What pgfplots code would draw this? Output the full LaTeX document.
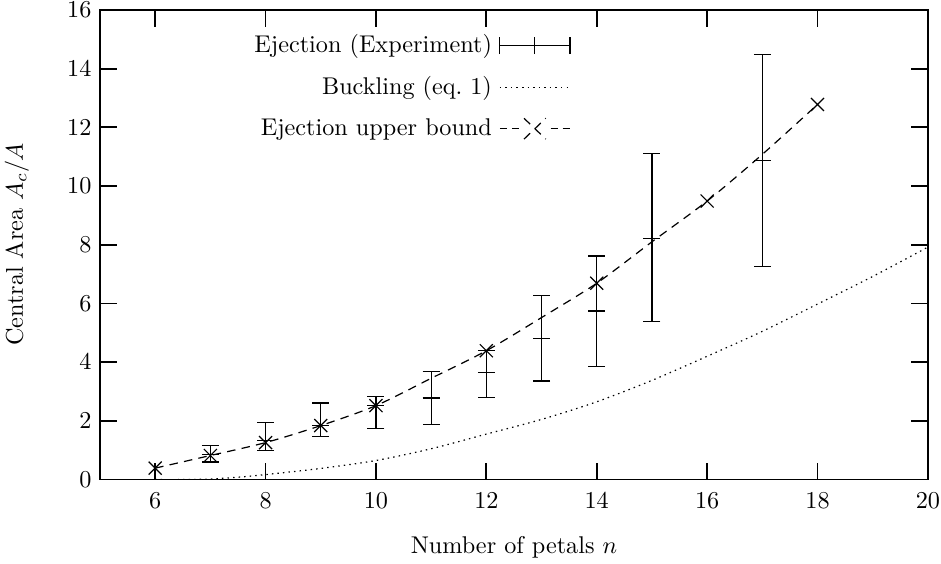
\documentclass[border=0pt]{standalone}
\usepackage{pgfplots}
\usetikzlibrary{calc}
\pgfplotsset{compat=1.18}
\pgfplotstableread{
x y ep em
7 0.85 0.30 0.25
8 1.33 0.62 0.34
9 1.84 0.77 0.38
10 2.52 0.30 0.77
11 2.78 0.89 0.90
12 3.64 0.75 0.85
13 4.81 1.45 1.45
14 5.74 1.88 1.90
15 8.22 2.89 2.84
17 10.87 3.61 3.61
}\experiment
\pgfplotstableread{
x y
6 0.39
7 0.82
8 1.26
9 1.84
10 2.52
11 3.45
12 4.39
13 5.52
14 6.69
15 8.10
16 9.49
17 11.08
18 12.78
}\upper
\pgfplotstableread{
x y
6 0
6.5 0
7 0.02
7.5 0.08
8 0.17
9 0.38
10 0.65
11 1.05
12 1.55
13 2.05
14 2.65
15 3.38
16 4.20
17 5.05
18 5.98
19 6.92
20 7.92
}\buckling
\begin{document}
\begin{tikzpicture}
\begin{axis}[
  name=main,
  scale only axis, width=342pt, height=194pt,
  xmin=5, xmax=20, ymin=0, ymax=16,
  xtick={6,8,...,20}, ytick={0,2,...,16},
  tick align=inside, major tick length=7pt,
  axis line style={line width=0.75pt},
  tick style={line width=0.75pt, black},
  xticklabel style={yshift=-2pt},
  yticklabel style={inner ysep=1pt},
  xlabel={Number of petals $n$}, ylabel={Central Area $A_c/A$},
  xlabel style={yshift=-4.5pt},
  ylabel shift=9pt,
  legend style={draw=none, fill=none, at={(0.569,0.956)}, anchor=north east,
    row sep=5.3pt, font=\normalsize, inner sep=0pt,
    nodes={inner xsep=3pt, inner ysep=1.5pt}},
  legend cell align=right,
  legend plot pos=right,
]
\addplot[only marks, black, mark=+, mark size=3.5pt, mark options={line width=0.5pt},
  error bars/.cd, y dir=both, y explicit,
  error bar style={line width=0.5pt},
  error mark options={rotate=90, mark size=3.5pt, line width=0.5pt},
  ]
  table[x=x, y=y, y error plus=ep, y error minus=em] {\experiment};
\addlegendentry{Ejection (Experiment)}
\addplot[black, line width=0.5pt, dash pattern=on 0.6pt off 1.7pt, smooth]
  table[x=x, y=y] {\buckling};
\addlegendentry{Buckling (eq.~1)}
\addplot[black, line width=0.5pt, dash pattern=on 3.5pt off 2.6pt, smooth,
  mark=x, mark size=3.8pt, mark indices={1,2,3,4,5,7,9,11,13},
  mark options={solid, line width=0.5pt}]
  table[x=x, y=y] {\upper};
\addlegendentry{Ejection upper bound}
\pgfplotsset{
  every axis plot no 0/.append style={legend image code/.code={
    \draw[black, line width=0.5pt] (1pt,0pt) -- (30pt,0pt);
    \draw[black, line width=0.5pt] (1pt,-3.5pt) -- (1pt,3.5pt)
      (15.5pt,-3.5pt) -- (15.5pt,3.5pt) (30pt,-3.5pt) -- (30pt,3.5pt);}},
  every axis plot no 2/.append style={legend image code/.code={
    \draw[black, line width=0.5pt] (1pt,0pt) -- (4pt,0pt) (6pt,0pt) -- (9pt,0pt)
      (22pt,0pt) -- (25pt,0pt) (27pt,0pt) -- (30pt,0pt);
    \draw[black, line width=0.5pt] (11pt,-4.3pt) -- (20pt,4.3pt)
      (11pt,4.3pt) -- (20pt,-4.3pt);}},
  every axis plot no 1/.append style={legend image code/.code={
    \draw[black, line width=0.5pt, dash pattern=on 0.6pt off 1.7pt] (1pt,0pt) -- (30pt,0pt);}},
}
\end{axis}
\pgfresetboundingbox
\path[use as bounding box] ($(main.south west)+(-41.3pt,-34.7pt)$) rectangle ($(main.north east)+(5.4pt,4.1pt)$);
\end{tikzpicture}
\end{document}
